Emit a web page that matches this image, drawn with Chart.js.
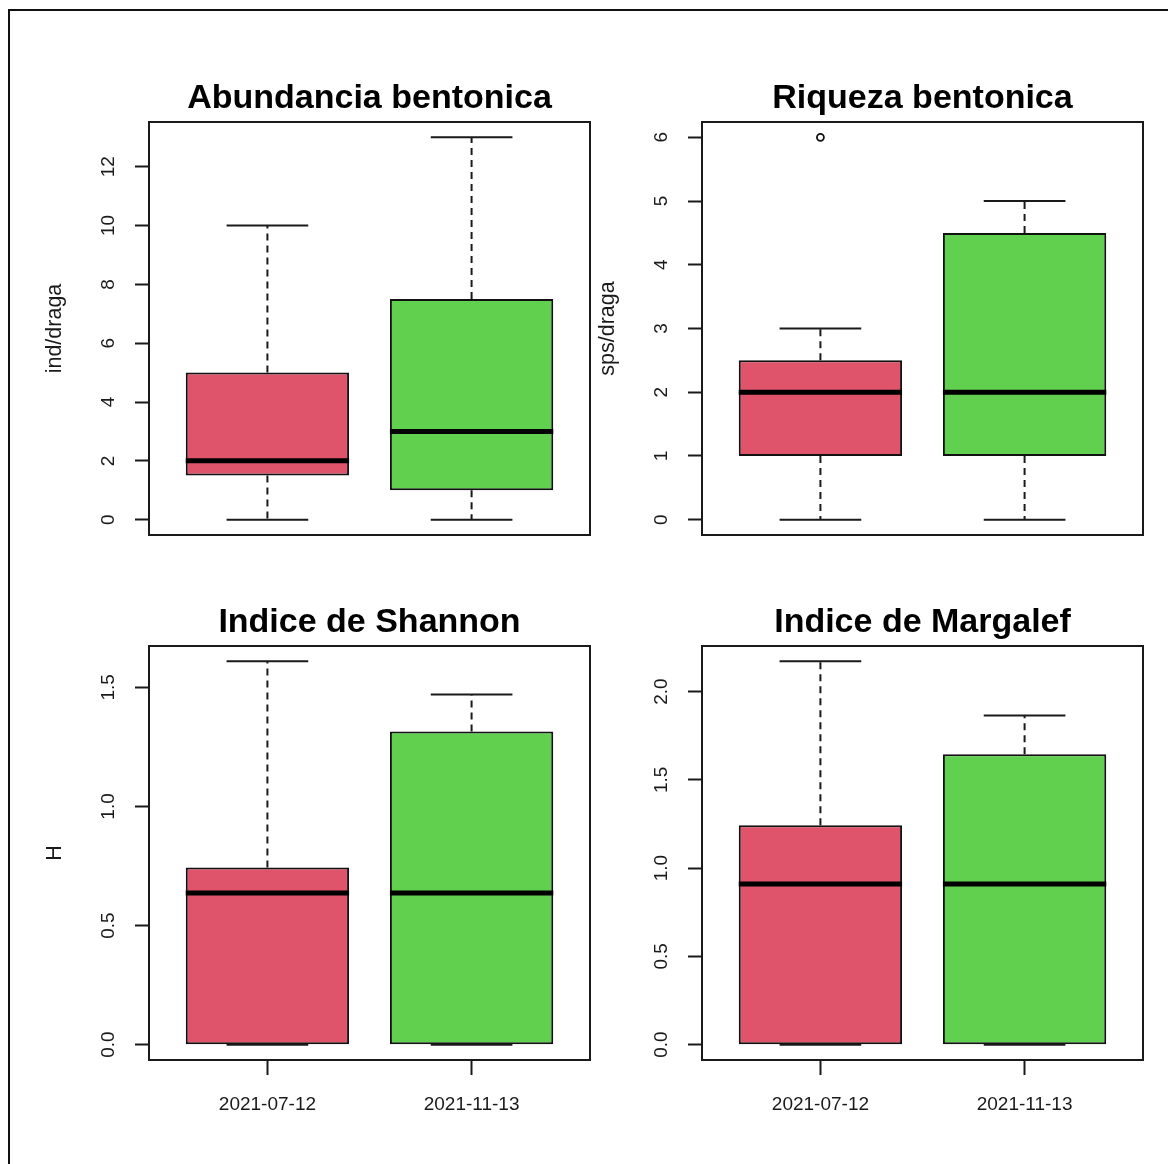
<!DOCTYPE html>
<html>
<head>
<meta charset="utf-8">
<script src="https://cdn.jsdelivr.net/npm/chart.js@4.4.1/dist/chart.umd.min.js"></script>
<style>
  html, body { margin: 0; padding: 0; background: #fff; width: 1168px; height: 1164px; overflow: hidden; }
  #frame { position: absolute; left: 8px; top: 9px; width: 1300px; height: 1300px;
           border-left: 2px solid #111; border-top: 2px solid #111; }
  canvas { position: absolute; }
</style>
</head>
<body>
<div id="frame"></div>
<canvas id="pAbund"></canvas>
<canvas id="pRiq"></canvas>
<canvas id="pShannon"></canvas>
<canvas id="pMargalef"></canvas>
<script>
// Sampling dates (groups)
const groups = ['2021-07-12', '2021-11-13'];
const groupColors = ['#DF536B', '#61D04F'];

// Five-number summaries per date: [lower whisker, Q1, median, Q3, upper whisker]
const abundStats   = [[0, 1.5, 2, 5, 10], [0, 1, 3, 7.5, 13]];
const riqStats     = [[0, 1, 2, 2.5, 3], [0, 1, 2, 4.5, 5]];
const shannonStats = [[0, 0, 0.6365, 0.744, 1.609], [0, 0, 0.6365, 1.315, 1.47]];
const margalefStats = [[0, 0, 0.91, 1.243, 2.171], [0, 0, 0.91, 1.645, 1.864]];

// Points beyond the whiskers, per date
const abundOutliers = [[], []];
const riqOutliers = [[6], []];
const shannonOutliers = [[], []];
const margalefOutliers = [[], []];

// Y tick labels
const abundTicks = ['0', '2', '4', '6', '8', '10', '12'];
const riqTicks = ['0', '1', '2', '3', '4', '5', '6'];
const shannonTicks = ['0.0', '0.5', '1.0', '1.5'];
const margalefTicks = ['0.0', '0.5', '1.0', '1.5', '2.0'];

const FONT = '"Liberation Sans", Arial, Helvetica, sans-serif';
const TICK_SIZE = 19;
const INK = '#1a1a1a';
const LINE_W = 2;
const BOX_HALF = 0.4;   // half box width in x units
const CAP_HALF = 0.2;   // half whisker-cap width in x units

Chart.defaults.font.family = FONT;

const CANVAS_W = 739, CANVAS_H = 600;
const AXIS_W = 149;          // width reserved for the y axis
const LABEL_CENTER = 109;    // x centre of rotated y tick labels
const Y_TICK_LEN = 14;
const YLAB_SIZE = 21.5;

const measureCtx = document.createElement('canvas').getContext('2d');
measureCtx.font = TICK_SIZE + 'px ' + FONT;

const panels = [
  { id: 'pAbund', left: 0, top: 0, title: 'Abundancia bentonica', ylab: 'ind/draga',
    stats: abundStats, outliers: abundOutliers, ticks: abundTicks, showX: false },
  { id: 'pRiq', left: 553, top: 0, title: 'Riqueza bentonica', ylab: 'sps/draga',
    stats: riqStats, outliers: riqOutliers, ticks: riqTicks, showX: false },
  { id: 'pShannon', left: 0, top: 524, title: 'Indice de Shannon', ylab: 'H',
    stats: shannonStats, outliers: shannonOutliers, ticks: shannonTicks, showX: true },
  { id: 'pMargalef', left: 553, top: 524, title: 'Indice de Margalef', ylab: '',
    stats: margalefStats, outliers: margalefOutliers, ticks: margalefTicks, showX: true }
];

// Box outline drawn around the plotting region
const framePlugin = {
  id: 'plotFrame',
  afterDraw(chart) {
    const a = chart.chartArea, ctx = chart.ctx;
    ctx.save();
    ctx.strokeStyle = INK;
    ctx.lineWidth = LINE_W;
    ctx.strokeRect(a.left, a.top, a.right - a.left, a.bottom - a.top);
    ctx.restore();
  }
};

function buildDatasets(stats, outliers) {
  const boxes = [], medians = [], whiskers = [], caps = [], outs = [];
  stats.forEach((s, i) => {
    const c = i + 1;
    boxes.push({ x: c, y: [s[1], s[3]] });
    medians.push({ x: c - BOX_HALF, y: s[2] }, { x: c + BOX_HALF, y: s[2] }, { x: c, y: null });
    whiskers.push({ x: c, y: s[3] }, { x: c, y: s[4] }, { x: c, y: null },
                  { x: c, y: s[1] }, { x: c, y: s[0] }, { x: c, y: null });
    caps.push({ x: c - CAP_HALF, y: s[4] }, { x: c + CAP_HALF, y: s[4] }, { x: c, y: null },
              { x: c - CAP_HALF, y: s[0] }, { x: c + CAP_HALF, y: s[0] }, { x: c, y: null });
  });
  outliers.forEach((arr, i) => arr.forEach(v => outs.push({ x: i + 1, y: v })));

  const lineBase = { type: 'line', pointRadius: 0, fill: false, spanGaps: false,
                     tension: 0, borderCapStyle: 'butt' };
  return [
    { type: 'bar', data: boxes, backgroundColor: groupColors, borderColor: '#111',
      borderWidth: LINE_W, borderSkipped: false, barPercentage: 0.8, categoryPercentage: 1, order: 3 },
    Object.assign({}, lineBase, { data: whiskers, borderColor: INK, borderWidth: LINE_W,
      borderDash: [7, 5], order: 2 }),
    Object.assign({}, lineBase, { data: caps, borderColor: INK, borderWidth: LINE_W, order: 2 }),
    Object.assign({}, lineBase, { data: medians, borderColor: '#000', borderWidth: 5, order: 1 }),
    { type: 'scatter', data: outs, pointStyle: 'circle', pointRadius: 3.5, pointBorderWidth: 1.8,
      pointBorderColor: '#111', pointBackgroundColor: 'rgba(0,0,0,0)', order: 0 }
  ];
}

panels.forEach(p => {
  const canvas = document.getElementById(p.id);
  canvas.width = CANVAS_W; canvas.height = CANVAS_H;
  canvas.style.width = CANVAS_W + 'px'; canvas.style.height = CANVAS_H + 'px';
  canvas.style.left = p.left + 'px'; canvas.style.top = p.top + 'px';

  // value range extended by 4% on each side
  const all = p.stats.flat().concat(p.outliers.flat());
  const lo = Math.min(...all), hi = Math.max(...all);
  const pad = 0.04 * (hi - lo);
  const xLo = 0.5, xHi = groups.length + 0.5, xPad = 0.04 * (xHi - xLo);

  const widest = Math.max(...p.ticks.map(t => measureCtx.measureText(t).width));
  const yTickPad = AXIS_W - Y_TICK_LEN - LABEL_CENTER - widest / 2;

  new Chart(canvas, {
    type: 'bar',
    data: { datasets: buildDatasets(p.stats, p.outliers) },
    plugins: [framePlugin],
    options: {
      responsive: false,
      animation: false,
      devicePixelRatio: 1,
      events: [],
      layout: { padding: { left: 0, right: CANVAS_W - 590, top: 0, bottom: p.showX ? 0 : 65 } },
      plugins: {
        legend: { display: false },
        tooltip: { enabled: false },
        title: {
          display: true, text: p.title, color: '#000', fullSize: false,
          font: { family: FONT, size: 34, weight: 'bold', lineHeight: 1.2 },
          padding: { top: 78, bottom: 3.2 }
        }
      },
      scales: {
        x: {
          type: 'linear', min: xLo - xPad, max: xHi + xPad, offset: false,
          display: p.showX,
          afterBuildTicks: s => { s.ticks = groups.map((g, i) => ({ value: i + 1 })); },
          afterFit: s => { s.height = p.showX ? 64 : 0; },
          grid: { offset: false, drawOnChartArea: false, drawTicks: true, tickLength: 15,
                  tickColor: INK, tickWidth: LINE_W, color: INK },
          border: { display: false },
          ticks: { autoSkip: false, maxRotation: 0, minRotation: 0, padding: 18.6, color: INK,
                   font: { family: FONT, size: TICK_SIZE, lineHeight: 1.2 },
                   callback: v => groups[Math.round(v) - 1] || '' }
        },
        y: {
          type: 'linear', min: lo - pad, max: hi + pad,
          afterBuildTicks: s => { s.ticks = p.ticks.map(t => ({ value: Number(t) })); },
          afterFit: s => { s.width = AXIS_W; },
          grid: { drawOnChartArea: false, drawTicks: true, tickLength: Y_TICK_LEN,
                  tickColor: INK, tickWidth: LINE_W, color: INK },
          border: { display: false },
          ticks: { autoSkip: false, minRotation: 90, maxRotation: 90, crossAlign: 'center',
                   padding: yTickPad, color: INK,
                   font: { family: FONT, size: TICK_SIZE, lineHeight: 1.2 },
                   callback: (v, i) => p.ticks[i] },
          title: { display: p.ylab !== '', text: p.ylab, color: INK,
                   font: { family: FONT, size: YLAB_SIZE, lineHeight: 1.2 },
                   padding: { top: 55 - YLAB_SIZE * 0.6, bottom: 0 } }
        }
      }
    }
  });
});
</script>
</body>
</html>
